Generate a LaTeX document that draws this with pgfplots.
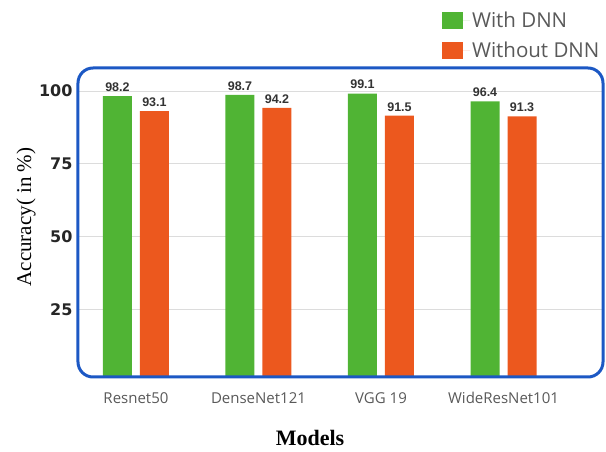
\documentclass[border=0pt]{standalone}
\usepackage{pgfplots}
\pgfplotsset{compat=1.18}
\usepackage{fontspec}
\setmainfont{Liberation Serif}
\newfontfamily\osans{Open Sans}
\newfontfamily\dsans{DejaVu Sans}
\newfontfamily\lsans{Liberation Sans}
\definecolor{cgreen}{RGB}{80,180,52}
\definecolor{corange}{RGB}{236,88,30}
\definecolor{cframe}{RGB}{28,88,196}
\definecolor{cgrid}{RGB}{220,220,220}
\begin{document}
\begin{tikzpicture}
\begin{axis}[
  name=ax,
  scale only axis,
  width=525pt, height=309pt,
  xmin=-0.473, xmax=3.812,
  ymin=1.7, ymax=107.9,
  axis line style={draw=none},
  xtick={0,1,2,3},
  xticklabels={Resnet50,DenseNet121,VGG 19,WideResNet101},
  ytick={25,50,75,100},
  major tick style={draw=none},
  ymajorgrids,
  grid style={cgrid, line width=0.8pt},
  xticklabel style={font=\fontsize{15}{18}\selectfont\osans, text=black!65, yshift=-12pt},
  yticklabel style={font=\fontsize{16}{19}\selectfont\dsans\bfseries, text=black!85, xshift=-2pt},
  /pgf/number format/assume math mode=true,
  xlabel={\textbf{Models}},
  xlabel style={font=\fontsize{22}{25}\selectfont, at={(axis description cs:0.442,-0.197)}, anchor=center},
  ylabel={Accuracy( in \%)},
  ylabel style={font=\fontsize{21}{24}\selectfont, at={(axis description cs:-0.099,0.518)}, anchor=center},
  legend style={at={(axis description cs:0.693,1.188)}, anchor=north west, draw=none, fill=none,
    font=\fontsize{20.5}{23}\selectfont\osans, text=black!65, row sep=9pt, inner sep=0pt},
  legend cell align=left,
  legend image code/.code={\fill[#1] (0pt,-8.5pt) rectangle (21pt,8.5pt); \path (0pt,0pt) -- (28pt,0pt);},
  nodes near coords,
  every node near coord/.append style={font=\fontsize{12.5}{15}\selectfont\lsans\bfseries, text=black!80, yshift=1pt,
    /pgf/number format/fixed, /pgf/number format/fixed zerofill, /pgf/number format/precision=1},
]
\addplot[ybar, bar width=29pt, bar shift=-18.5pt, fill=cgreen, draw=none,
  every node near coord/.append style={xshift=-18.5pt}] coordinates {(0,98.2) (1,98.7) (2,99.1) (3,96.4)};
\addlegendentry{With DNN}
\addplot[ybar, bar width=29pt, bar shift=18.5pt, fill=corange, draw=none,
  every node near coord/.append style={xshift=18.5pt}] coordinates {(0,93.1) (1,94.2) (2,91.5) (3,91.3)};
\addlegendentry{Without DNN}
\end{axis}
\draw[cframe, line width=3pt, rounded corners=15pt] (ax.south west) rectangle (ax.north east);
\pgfresetboundingbox
\path ([shift={(-78pt,-75pt)}]ax.south west) rectangle ([shift={(3pt,68pt)}]ax.north east);
\end{tikzpicture}
\end{document}
